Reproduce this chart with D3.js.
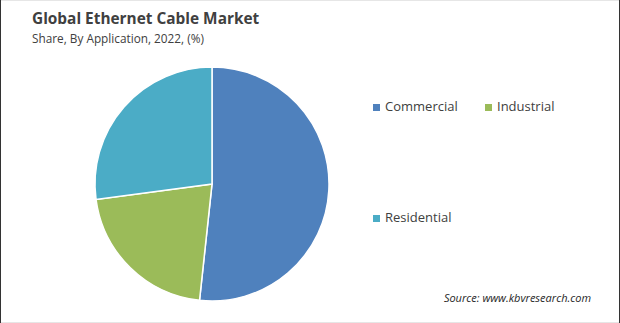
<!DOCTYPE html>
<html>
<head>
<meta charset="utf-8">
<script src="https://cdn.jsdelivr.net/npm/d3@7"></script>
<style>
  body { margin: 0; background: #fff; }
  svg { display: block; font-family: "Open Sans", "Noto Sans", sans-serif; }
</style>
</head>
<body>
<div id="rootDiv"></div>
<script>
const categories = ["Commercial", "Industrial", "Residential"]
const shares = [51.7, 21.2, 27.1]
const colors = ["#4f81bd", "#9bbb59", "#4bacc6"]

const width = 620
const height = 323
const cx = 212, cy = 184, radius = 117

const svg = d3.select("#rootDiv")
    .append("svg")
    .attr("width", width)
    .attr("height", height)

// frame
svg.append("rect")
    .attr("x", 0.5).attr("y", 0.5)
    .attr("width", width - 1).attr("height", height - 1)
    .attr("fill", "#fff")
    .attr("stroke", "#e6e6e6")
svg.append("line").attr("x1", 0.5).attr("x2", 0.5).attr("y1", 0).attr("y2", height).attr("stroke", "#333")
svg.append("line").attr("x1", width - 0.5).attr("x2", width - 0.5).attr("y1", 0).attr("y2", height).attr("stroke", "#333")

// title
svg.append("text")
    .attr("x", 32).attr("y", 24)
    .attr("font-size", 15.4).attr("font-weight", "bold")
    .attr("fill", "#404040")
    .text("Global Ethernet Cable Market")

svg.append("text")
    .attr("x", 32).attr("y", 43)
    .attr("font-size", 11.8)
    .attr("fill", "#404040")
    .text("Share, By Application, 2022, (%)")

// pie
const pie = d3.pie().sort(null).value(d => d)
const arc = d3.arc().innerRadius(0).outerRadius(radius)

svg.append("g")
    .attr("transform", `translate(${cx},${cy})`)
    .selectAll("path")
    .data(pie(shares))
    .enter()
    .append("path")
    .attr("d", arc)
    .attr("fill", (_d, i) => colors[i])
    .attr("stroke", "#fff")
    .attr("stroke-width", 1.5)

// legend
const legendPos = [[373, 111], [485, 111], [373, 222]]
const legend = svg.append("g")
    .selectAll("g")
    .data(categories)
    .enter()
    .append("g")
    .attr("transform", (_d, i) => `translate(${legendPos[i][0]},${legendPos[i][1]})`)

legend.append("rect")
    .attr("x", 0).attr("y", -7)
    .attr("width", 7).attr("height", 7)
    .attr("fill", (_d, i) => colors[i])

legend.append("text")
    .attr("x", 12).attr("y", 0)
    .attr("font-size", 13)
    .attr("fill", "#404040")
    .text(d => d)

// source
svg.append("text")
    .attr("x", 591).attr("y", 302)
    .attr("text-anchor", "end")
    .attr("font-size", 11)
    .attr("font-style", "italic")
    .attr("fill", "#262626")
    .text("Source: www.kbvresearch.com")
</script>
</body>
</html>
